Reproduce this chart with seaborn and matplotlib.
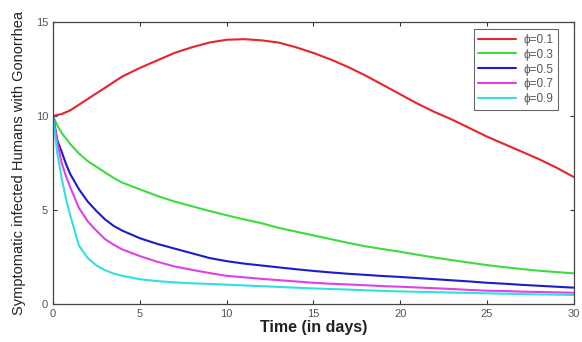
import numpy as np
import pandas as pd
import matplotlib
matplotlib.use("Agg")
import matplotlib.pyplot as plt
import seaborn as sns

time = [0, 0.25, 0.5, 0.75, 1, 1.5, 2, 2.5, 3, 3.5, 4, 5, 6, 7, 8, 9, 10, 11, 12, 13, 14, 15,
        16, 17, 18, 19, 20, 21, 22, 23, 24, 25, 26, 27, 28, 29, 30]
phi_01 = [10.0, 10.05, 10.1, 10.2, 10.3, 10.6, 10.9, 11.2, 11.5, 11.8, 12.1, 12.55, 12.95, 13.35, 13.65, 13.9, 14.05,
          14.08, 14.02, 13.9, 13.65, 13.35, 13.0, 12.6, 12.15, 11.65, 11.15, 10.65, 10.2, 9.8, 9.35,
          8.9, 8.5, 8.1, 7.7, 7.25, 6.75]
phi_03 = [10.0, 9.5, 9.1, 8.8, 8.5, 8.0, 7.6, 7.3, 7.0, 6.7, 6.45, 6.1, 5.75, 5.45, 5.2, 4.95, 4.72,
          4.5, 4.3, 4.05, 3.85, 3.65, 3.45, 3.25, 3.07, 2.92, 2.78, 2.62, 2.47, 2.33, 2.2,
          2.07, 1.96, 1.86, 1.77, 1.7, 1.63]
phi_05 = [10.0, 8.7, 8.1, 7.45, 6.9, 6.1, 5.45, 4.95, 4.5, 4.15, 3.9, 3.5, 3.2, 2.95, 2.7, 2.45, 2.28,
          2.15, 2.05, 1.95, 1.85, 1.76, 1.68, 1.61, 1.55, 1.49, 1.44, 1.38, 1.32, 1.26, 1.2,
          1.13, 1.08, 1.02, 0.97, 0.92, 0.87]
phi_07 = [10.0, 8.6, 7.5, 6.8, 6.2, 5.1, 4.4, 3.9, 3.45, 3.15, 2.9, 2.55, 2.25, 2.0, 1.82, 1.65, 1.5,
          1.42, 1.34, 1.27, 1.2, 1.13, 1.08, 1.04, 1.0, 0.95, 0.92, 0.88, 0.84, 0.8, 0.75,
          0.71, 0.69, 0.66, 0.64, 0.62, 0.6]
phi_09 = [10.0, 8.0, 6.7, 5.6, 4.7, 3.1, 2.45, 2.05, 1.8, 1.62, 1.5, 1.32, 1.22, 1.15, 1.1, 1.07, 1.03,
          0.99, 0.95, 0.91, 0.87, 0.83, 0.8, 0.77, 0.73, 0.7, 0.67, 0.65, 0.63, 0.61, 0.59,
          0.57, 0.55, 0.53, 0.51, 0.5, 0.48]
labels = ["\u03d5=0.1", "\u03d5=0.3", "\u03d5=0.5", "\u03d5=0.7", "\u03d5=0.9"]
series = [phi_01, phi_03, phi_05, phi_07, phi_09]
colors = ["#e8232b", "#3ddc3d", "#1c1cc8", "#e040e8", "#30e0e0"]

frames = []
for lab, vals in zip(labels, series):
    frames.append(pd.DataFrame({"t": time, "y": vals, "phi": lab}))
df = pd.concat(frames, ignore_index=True)

sns.set_style("white")
plt.rcParams['font.family'] = ['Liberation Sans', 'DejaVu Sans']

fig = plt.figure(figsize=(5.82, 3.42), dpi=100)
ax = fig.add_axes([0.091, 0.111, 0.895, 0.825])
sns.lineplot(data=df, x="t", y="y", hue="phi", palette=colors, linewidth=1.5, ax=ax,
             legend=True, sort=True, estimator=None)

ax.set_xlim(0, 30)
ax.set_ylim(0, 15)
ax.set_xticks([0, 5, 10, 15, 20, 25, 30])
ax.set_yticks([0, 5, 10, 15])
ax.tick_params(direction="in", length=3, width=0.8, labelsize=8, colors="#333333",
               labelcolor="#555555", top=True, right=True, bottom=True, left=True)
for s in ax.spines.values():
    s.set_color("#444444")
    s.set_linewidth(0.9)
ax.set_xlabel("Time (in days)", fontsize=11.5, fontweight="bold", color="#222222", labelpad=1)
ax.set_ylabel("Symptomatic infected Humans with Gonorrhea", fontsize=10.5, color="#222222", labelpad=7)

leg = ax.legend(loc="upper right", bbox_to_anchor=(0.981, 0.996), fontsize=8.5, frameon=True,
                fancybox=False, edgecolor="#444444", handlelength=3.2, borderpad=0.4,
                labelspacing=0.25, handletextpad=0.6)
leg.get_frame().set_linewidth(0.8)
for t in leg.get_texts():
    t.set_color("#555555")

fig.savefig("out.png", dpi=100)
